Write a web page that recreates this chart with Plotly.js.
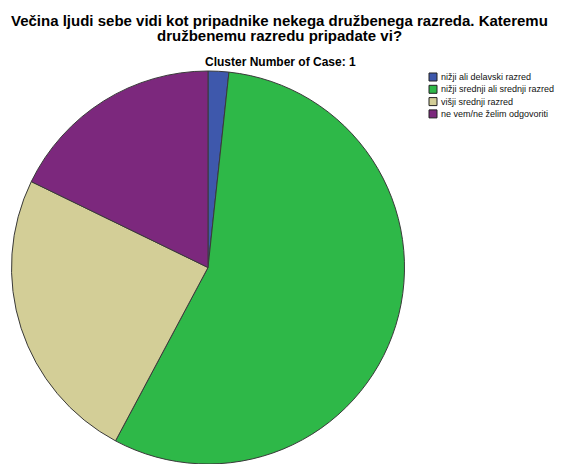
<!DOCTYPE html>
<html>
<head>
<meta charset="utf-8">
<script src="https://cdn.plot.ly/plotly-3.0.1.min.js"></script>
<style>html,body{margin:0;padding:0;background:#fff;}#chart{width:571px;height:464px;}</style>
</head>
<body>
<div id="chart"></div>
<script>
const categories = ["nižji ali delavski razred", "nižji srednji ali srednji razred", "višji srednji razred", "ne vem/ne želim odgovoriti"];
const values = [1.7, 56.1, 24.4, 17.8];
const colors = ["#3E58AC", "#2EB848", "#D3CE97", "#7C287D"];
const titleLines = ["Večina ljudi sebe vidi kot pripadnike nekega družbenega razreda. Kateremu", "družbenemu razredu pripadate vi?"];
const subtitleText = "Cluster Number of Case: 1";

const W = 571, H = 464;
const font = "Liberation Sans, Arial, sans-serif";

const trace = {
  type: "pie",
  labels: categories,
  values: values,
  sort: false,
  direction: "clockwise",
  rotation: 0,
  textinfo: "none",
  marker: {colors: colors, line: {color: "#3a3a3a", width: 1}},
  domain: {x: [10 / W, 406 / W], y: [0, (H - 71) / H]},
  showlegend: false
};

const annotations = [];
titleLines.forEach((t, i) => {
  annotations.push({text: "<b>" + t + "</b>", x: 279 / W, y: 1 - (20 + i * 15.5) / H, xref: "paper", yref: "paper",
    showarrow: false, xanchor: "center", yanchor: "middle",
    font: {family: font, size: 15, color: "#000"}});
});
annotations.push({text: "<b>" + subtitleText + "</b>", x: 280 / W, y: 1 - 62 / H, xref: "paper", yref: "paper",
  showarrow: false, xanchor: "center", yanchor: "middle", font: {family: font, size: 12, color: "#000"}});

const shapes = [];
const legX = 429, legY0 = 77, legDy = 12.3, box = 8;
categories.forEach((c, i) => {
  const yc = legY0 + i * legDy;
  shapes.push({type: "rect", xref: "paper", yref: "paper",
    x0: legX / W, x1: (legX + box) / W, y0: 1 - (yc - box / 2) / H, y1: 1 - (yc + box / 2) / H,
    fillcolor: colors[i], line: {color: "#222", width: 1}});
  annotations.push({text: c, x: (legX + box + 2) / W, y: 1 - yc / H, xref: "paper", yref: "paper",
    showarrow: false, xanchor: "left", yanchor: "middle", font: {family: font, size: 9, color: "#111"}});
});

const layout = {
  width: W, height: H,
  margin: {l: 0, r: 0, t: 0, b: 0},
  paper_bgcolor: "#fff",
  annotations: annotations,
  shapes: shapes,
  showlegend: false
};

Plotly.newPlot("chart", [trace], layout, {displayModeBar: false, staticPlot: true});
</script>
</body>
</html>
